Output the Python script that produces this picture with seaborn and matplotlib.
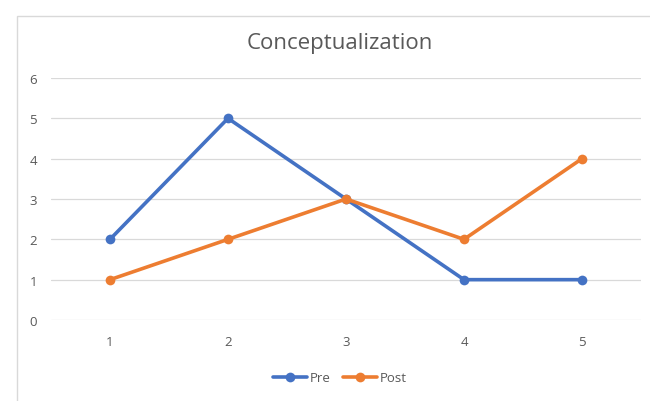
import matplotlib
matplotlib.use('Agg')
import matplotlib.pyplot as plt
import seaborn as sns
import pandas as pd
from matplotlib.patches import Rectangle

# values
categories = [1, 2, 3, 4, 5]
pre = [2, 5, 3, 1, 1]
post = [1, 2, 3, 2, 4]
series_names = ['Pre', 'Post']
y_ticks = [0, 1, 2, 3, 4, 5, 6]

df = pd.DataFrame({
    'x': categories * 2,
    'score': pre + post,
    'series': [series_names[0]] * len(pre) + [series_names[1]] * len(post),
})

sns.set_theme(style='white')
plt.rcParams['font.family'] = ['Open Sans', 'DejaVu Sans']

fig = plt.figure(figsize=(6.5, 4.02), dpi=100)
# light chart-area frame like the spreadsheet screenshot
fig.patches.append(Rectangle((17 / 650, -0.1), 1.0, 1 - 17 / 402 + 0.1,
                             transform=fig.transFigure, fill=False,
                             edgecolor='#d9d9d9', lw=1.0))
ax = fig.add_axes([51 / 650, 1 - 321 / 402, 590 / 650, 242 / 402])

palette = {'Pre': '#4472C4', 'Post': '#ED7D31'}
sns.lineplot(data=df, x='x', y='score', hue='series', palette=palette,
             marker='o', markersize=7, markeredgewidth=0, linewidth=2.6,
             ax=ax, legend=True)

ax.set_xlim(0.5, 5.5)
ax.set_ylim(0, 6)
ax.set_xticks(categories)
ax.set_yticks(y_ticks)
ax.yaxis.grid(True, color='#d9d9d9', lw=0.9)
ax.set_axisbelow(True)
for s in ax.spines.values():
    s.set_visible(False)
ax.tick_params(axis='both', length=0, labelsize=9.5, labelcolor='#595959')
ax.tick_params(axis='x', pad=11)
ax.tick_params(axis='y', pad=10)
ax.set_xlabel('')
ax.set_ylabel('')

fig.text(340 / 650, 1 - 44 / 402, 'Conceptualization', ha='center', va='center',
         fontsize=16, color='#595959')

handles, labels = ax.get_legend_handles_labels()
ax.get_legend().remove()
fig.legend(handles, labels, loc='center', bbox_to_anchor=(340 / 650, 1 - 379 / 402),
           ncol=2, frameon=False, fontsize=9.5, labelcolor='#595959',
           handlelength=2.6, handletextpad=0.2, columnspacing=0.9)

fig.savefig('out.png', dpi=100)
